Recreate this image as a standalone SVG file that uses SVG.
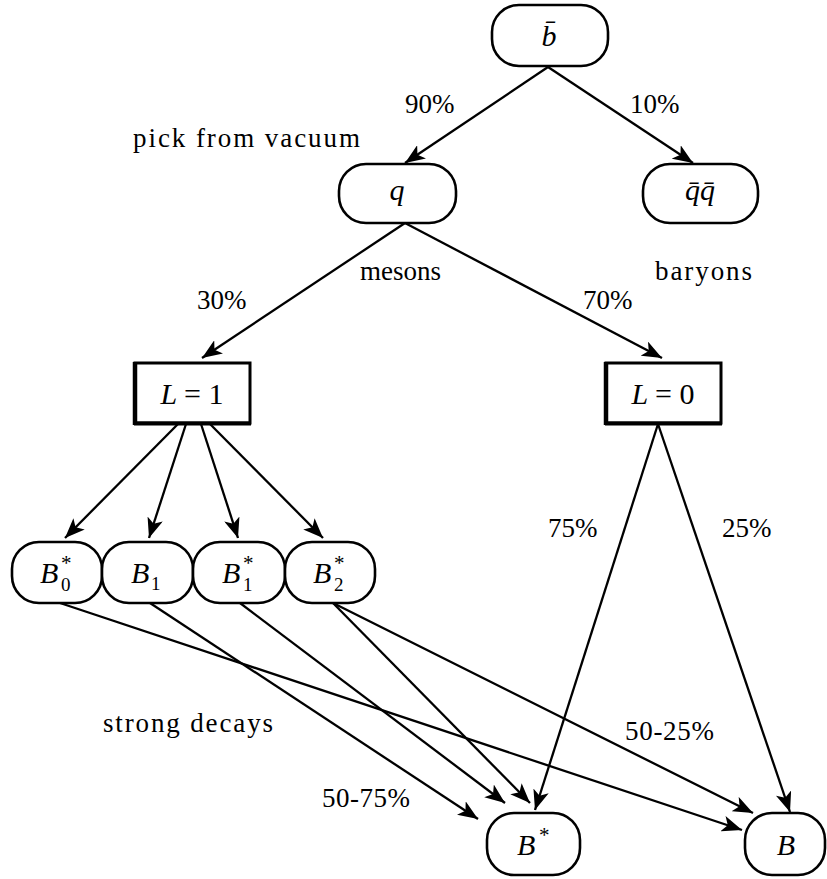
<svg xmlns="http://www.w3.org/2000/svg" width="827" height="879" viewBox="0 0 827 879">
<style>
.node{fill:#fff;stroke:#000;stroke-width:2.6}
.box{fill:#fff;stroke:#000;stroke-width:3}
.edge{stroke:#000;stroke-width:2.3;fill:none;marker-end:url(#ah)}
.lbl{font-family:"Liberation Serif",serif;font-size:27px;fill:#000}
.math{font-family:"Liberation Serif",serif;font-style:italic;font-size:30px;fill:#000}
.mid{text-anchor:middle}
.rm{font-style:normal}
.sup{font-family:"Liberation Serif",serif;font-size:21px;fill:#000}
.sub{font-family:"Liberation Serif",serif;font-size:19px;fill:#000}
</style>
<defs>
<marker id="ah" markerUnits="userSpaceOnUse" markerWidth="22" markerHeight="16" refX="20" refY="8" orient="auto">
<path d="M0,0 L20,8 L0,16 L5,8 Z" fill="#000"/>
</marker>
</defs>
<rect width="827" height="879" fill="#fff"/>
<g id="connectors">
<line class="edge" x1="548" y1="67" x2="405" y2="163"/>
<line class="edge" x1="548" y1="67" x2="693" y2="163"/>
<line class="edge" x1="405" y1="223" x2="202" y2="358"/>
<line class="edge" x1="405" y1="223" x2="662" y2="358"/>
<line class="edge" x1="178" y1="424" x2="65" y2="538"/>
<line class="edge" x1="186" y1="424" x2="149" y2="538"/>
<line class="edge" x1="201" y1="424" x2="238" y2="538"/>
<line class="edge" x1="210" y1="424" x2="323" y2="538"/>
<line class="edge" x1="658" y1="424" x2="535" y2="810"/>
<line class="edge" x1="658" y1="424" x2="790" y2="812"/>
<line class="edge" x1="60" y1="603" x2="742" y2="830"/>
<line class="edge" x1="150" y1="603" x2="478" y2="819"/>
<line class="edge" x1="240" y1="603" x2="505" y2="803"/>
<line class="edge" x1="333" y1="603" x2="530" y2="803"/>
<line class="edge" x1="333" y1="603" x2="753" y2="813"/>
</g>
<g id="n_bbar">
<rect class="node" x="492" y="5" width="116" height="61" rx="27"/>
<text class="math mid" x="549" y="46">b&#x0304;</text>
</g>
<g id="n_q">
<rect class="node" x="339" y="164" width="117" height="59" rx="27"/>
<text class="math mid" x="397" y="200">q</text>
</g>
<g id="n_qq">
<rect class="node" x="643" y="164" width="115" height="59" rx="27"/>
<text class="math mid" x="700" y="200">q&#x0304;q&#x0304;</text>
</g>
<g id="n_L1">
<rect class="box" x="135" y="363" width="115" height="60"/>
<line x1="135" y1="362" x2="135" y2="425" stroke="#000" stroke-width="4.5"/>
<line x1="134" y1="423.5" x2="251" y2="423.5" stroke="#000" stroke-width="4"/>
<text class="math mid" x="192" y="404">L <tspan class="rm">= 1</tspan></text>
</g>
<g id="n_L0">
<rect class="box" x="606" y="363" width="115" height="60"/>
<line x1="606" y1="362" x2="606" y2="425" stroke="#000" stroke-width="4.5"/>
<line x1="605" y1="423.5" x2="722" y2="423.5" stroke="#000" stroke-width="4"/>
<text class="math mid" x="663" y="404">L <tspan class="rm">= 0</tspan></text>
</g>
<g id="n_B0s">
<rect class="node" x="12" y="542" width="90" height="61" rx="27"/>
<text class="math" x="40" y="583">B</text>
<text class="sup" x="61" y="570">*</text>
<text class="sub" x="61" y="591">0</text>
</g>
<g id="n_B1">
<rect class="node" x="102" y="542" width="91" height="61" rx="27"/>
<text class="math" x="131" y="583">B</text>
<text class="sub" x="151" y="590">1</text>
</g>
<g id="n_B1s">
<rect class="node" x="193" y="542" width="92" height="61" rx="27"/>
<text class="math" x="222" y="583">B</text>
<text class="sup" x="243" y="570">*</text>
<text class="sub" x="243" y="591">1</text>
</g>
<g id="n_B2s">
<rect class="node" x="285" y="542" width="90" height="61" rx="27"/>
<text class="math" x="313" y="583">B</text>
<text class="sup" x="334" y="570">*</text>
<text class="sub" x="334" y="591">2</text>
</g>
<g id="n_Bs">
<rect class="node" x="487" y="813" width="93" height="62" rx="27"/>
<text class="math" x="517" y="855">B</text>
<text class="sup" x="539" y="842">*</text>
</g>
<g id="n_B">
<rect class="node" x="745" y="813" width="80" height="62" rx="27"/>
<text class="math mid" x="786" y="855">B</text>
</g>
<g id="labels">
<text class="lbl" x="405" y="113">90%</text>
<text class="lbl" x="630" y="113">10%</text>
<text class="lbl" x="133" y="147" textLength="227" lengthAdjust="spacing">pick from vacuum</text>
<text class="lbl" x="360" y="280">mesons</text>
<text class="lbl" x="655" y="280" textLength="97" lengthAdjust="spacing">baryons</text>
<text class="lbl" x="197" y="309">30%</text>
<text class="lbl" x="583" y="309">70%</text>
<text class="lbl" x="548" y="537">75%</text>
<text class="lbl" x="722" y="537">25%</text>
<text class="lbl" x="103" y="732" textLength="170" lengthAdjust="spacing">strong decays</text>
<text class="lbl" x="625" y="740" textLength="89" lengthAdjust="spacing">50-25%</text>
<text class="lbl" x="322" y="807" textLength="88" lengthAdjust="spacing">50-75%</text>
</g>
</svg>
